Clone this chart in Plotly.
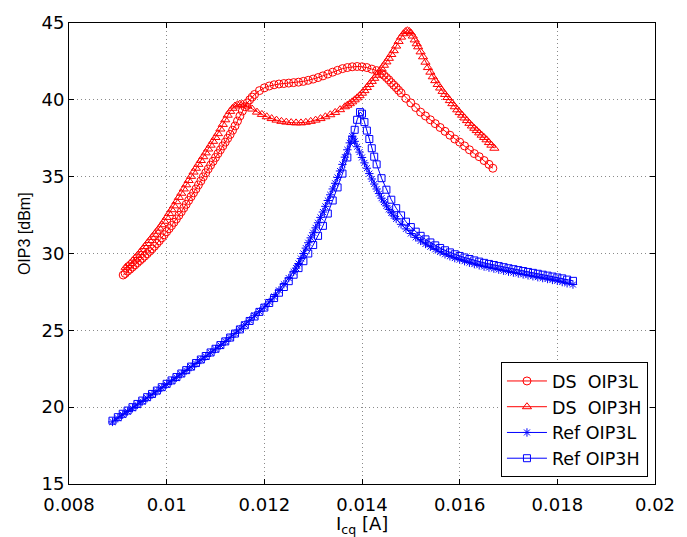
import plotly.graph_objects as go

# ---- data: quiescent collector current Icq [A] vs. OIP3 [dBm] ----
ds_l_icq = [0.00911, 0.00915, 0.0092, 0.00925, 0.0093, 0.00935, 0.0094, 0.00945, 0.0095, 0.00955,
            0.0096, 0.00965, 0.0097, 0.00975, 0.0098, 0.00985, 0.0099, 0.00995, 0.0100, 0.01005,
            0.0101, 0.01015, 0.0102, 0.01025, 0.0103, 0.01035, 0.0104, 0.01045, 0.0105, 0.01055,
            0.0106, 0.01065, 0.0107, 0.01075, 0.0108, 0.01085, 0.0109, 0.01095, 0.0110, 0.01105,
            0.0111, 0.01115, 0.0112, 0.01125, 0.0113, 0.01135, 0.0114, 0.01145, 0.0115, 0.01155,
            0.0116, 0.01165, 0.0117, 0.01175, 0.0118, 0.0119, 0.0120,
            0.0121, 0.0122, 0.0123, 0.0124, 0.0125, 0.0126, 0.0127, 0.0128, 0.0129, 0.0130,
            0.0131, 0.0132, 0.0133, 0.0134, 0.0135, 0.0136, 0.0137, 0.0138, 0.0139, 0.0140,
            0.0141, 0.0142, 0.0143, 0.0144, 0.01445, 0.0145, 0.01455, 0.0146, 0.01465, 0.0147,
            0.01475, 0.0148, 0.0149, 0.0150,
            0.0151, 0.0152, 0.0153, 0.0154, 0.0155, 0.0156, 0.0157, 0.0158, 0.0159, 0.0160,
            0.0161, 0.0162, 0.0163, 0.0164, 0.0165, 0.0166, 0.01668]
ds_l_oip3 = [28.6, 28.7, 28.85, 28.98, 29.12, 29.26, 29.4, 29.54, 29.68, 29.83,
             29.98, 30.14, 30.3, 30.47, 30.65, 30.83, 31.02, 31.22, 31.42, 31.62,
             31.82, 32.03, 32.25, 32.48, 32.72, 32.96, 33.2, 33.45, 33.7, 33.95,
             34.2, 34.46, 34.72, 34.99, 35.25, 35.5, 35.75, 36.0, 36.25, 36.5,
             36.75, 37.0, 37.25, 37.5, 37.75, 38.02, 38.3, 38.62, 38.95, 39.27,
             39.55, 39.8, 40.0, 40.18, 40.35, 40.6, 40.78,
             40.9, 40.98, 41.03, 41.06, 41.09, 41.12, 41.15, 41.2, 41.27, 41.35,
             41.45, 41.56, 41.68, 41.8, 41.92, 42.03, 42.1, 42.15, 42.17, 42.15,
             42.1, 42.0, 41.9, 41.72, 41.6, 41.45, 41.3, 41.12, 40.96, 40.8,
             40.62, 40.45, 40.1, 39.8,
             39.5, 39.2, 38.95, 38.7, 38.45, 38.2, 37.95, 37.7, 37.45, 37.25,
             37.0, 36.75, 36.5, 36.3, 36.05, 35.8, 35.55]

ds_h_icq = [0.00916, 0.0092, 0.00925, 0.0093, 0.00935, 0.0094, 0.00945, 0.0095, 0.00955, 0.0096,
            0.00965, 0.0097, 0.00975, 0.0098, 0.00985, 0.0099, 0.00995, 0.0100, 0.01005, 0.0101,
            0.01015, 0.0102, 0.01025, 0.0103, 0.01035, 0.0104, 0.01045, 0.0105, 0.01055, 0.0106,
            0.01065, 0.0107, 0.01075, 0.0108, 0.01085, 0.0109, 0.01095, 0.0110, 0.01105, 0.0111,
            0.01115, 0.0112, 0.01125, 0.0113, 0.01135, 0.0114, 0.01145, 0.0115, 0.01155,
            0.01165, 0.01175, 0.01185, 0.01195, 0.01205,
            0.01215, 0.01225, 0.01235, 0.01245, 0.01255, 0.01265, 0.01275, 0.01285, 0.01295, 0.01305,
            0.01315, 0.01325, 0.01335, 0.01345, 0.01355, 0.01365, 0.0137, 0.01375, 0.0138, 0.01385,
            0.0139, 0.01395, 0.0140, 0.01405, 0.0141, 0.01415, 0.0142, 0.01425, 0.0143, 0.01435,
            0.0144, 0.01445, 0.0145, 0.01455, 0.0146, 0.01465, 0.0147, 0.01475, 0.0148, 0.01485,
            0.01489, 0.01493, 0.01497, 0.0150, 0.01504, 0.01508, 0.01512, 0.01515, 0.0152, 0.01525,
            0.0153, 0.01535, 0.0154, 0.01545, 0.0155, 0.01555, 0.0156, 0.01565, 0.0157, 0.01575,
            0.0158, 0.01585, 0.0159, 0.01595, 0.0160, 0.01605, 0.0161, 0.01615, 0.0162, 0.01625,
            0.0163, 0.01635, 0.0164, 0.01645, 0.0165, 0.01655, 0.0166, 0.01665, 0.01671]
ds_h_oip3 = [29.1, 29.2, 29.35, 29.52, 29.7, 29.87, 30.05, 30.25, 30.45, 30.65,
             30.85, 31.05, 31.25, 31.45, 31.65, 31.87, 32.1, 32.35, 32.6, 32.85,
             33.1, 33.37, 33.65, 33.92, 34.2, 34.47, 34.75, 35.02, 35.3, 35.55,
             35.8, 36.05, 36.3, 36.55, 36.8, 37.05, 37.3, 37.55, 37.8, 38.1,
             38.4, 38.7, 39.0, 39.25, 39.45, 39.6, 39.68, 39.72, 39.72,
             39.6, 39.4, 39.2, 39.05, 38.9,
             38.78, 38.68, 38.6, 38.55, 38.52, 38.5, 38.5, 38.54, 38.6, 38.68,
             38.78, 38.9, 39.03, 39.18, 39.36, 39.55, 39.65, 39.75, 39.87, 40.0,
             40.13, 40.27, 40.43, 40.6, 40.8, 41.0, 41.2, 41.4, 41.6, 41.8,
             42.02, 42.25, 42.47, 42.7, 42.95, 43.2, 43.5, 43.8, 44.08, 44.3,
             44.44, 44.5, 44.45, 44.35, 44.15, 43.9, 43.65, 43.45, 43.12, 42.8,
             42.45, 42.1, 41.8, 41.5, 41.25, 41.0, 40.77, 40.55, 40.35, 40.15,
             39.95, 39.75, 39.55, 39.35, 39.17, 39.0, 38.82, 38.65, 38.47, 38.3,
             38.15, 38.0, 37.85, 37.7, 37.55, 37.4, 37.22, 37.05, 36.85]

ref_l_icq = [0.00889, 0.0090, 0.0091, 0.0092, 0.0093, 0.0094, 0.0095, 0.0096, 0.0097, 0.0098,
             0.0099, 0.0100, 0.0101, 0.0102, 0.0103, 0.0104, 0.0105, 0.0106, 0.0107, 0.0108,
             0.0109, 0.0110, 0.0111, 0.0112, 0.0113, 0.0114, 0.0115, 0.0116, 0.0117, 0.0118,
             0.0119, 0.0120, 0.0121, 0.0122, 0.0123, 0.0124, 0.0125,
             0.0126, 0.01265, 0.0127, 0.01275, 0.0128, 0.01285, 0.0129, 0.01295, 0.0130, 0.01305,
             0.0131, 0.01315, 0.0132, 0.01325, 0.0133, 0.01335, 0.0134, 0.01345, 0.0135, 0.01355,
             0.0136, 0.01365, 0.0137, 0.01375, 0.0138, 0.01385, 0.0139, 0.01395, 0.0140, 0.01405,
             0.0141, 0.01415, 0.0142, 0.01425, 0.0143, 0.01435, 0.0144, 0.01445, 0.0145, 0.01455,
             0.0146, 0.01465, 0.0147, 0.0148, 0.0149, 0.0150, 0.0151, 0.0152, 0.0153, 0.0154, 0.0155,
             0.0156, 0.0157, 0.0158, 0.0159, 0.0160, 0.0161, 0.0162, 0.0163, 0.0164, 0.0165,
             0.0166, 0.0167, 0.0168, 0.0169, 0.0170, 0.0171, 0.0172, 0.0173, 0.0174, 0.0175,
             0.0176, 0.0177, 0.0178, 0.0179, 0.0180, 0.0181, 0.0182, 0.01832]
ref_l_oip3 = [19.04, 19.28, 19.5, 19.72, 19.93, 20.15, 20.37, 20.59, 20.81, 21.03,
              21.25, 21.47, 21.7, 21.92, 22.15, 22.38, 22.61, 22.84, 23.07, 23.3,
              23.54, 23.78, 24.02, 24.27, 24.52, 24.8, 25.08, 25.36, 25.65, 25.95,
              26.22, 26.52, 26.85, 27.2, 27.6, 28.0, 28.4,
              28.8, 29.05, 29.35, 29.67, 30.0, 30.35, 30.7, 31.02, 31.35, 31.67,
              32.0, 32.35, 32.7, 33.07, 33.45, 33.82, 34.2, 34.57, 34.95, 35.37,
              35.8, 36.27, 36.75, 37.2, 37.64, 37.3, 36.95, 36.6, 36.25, 35.9,
              35.55, 35.2, 34.85, 34.52, 34.2, 33.9, 33.6, 33.35, 33.1, 32.87,
              32.65, 32.45, 32.25, 31.9, 31.6, 31.3, 31.05, 30.82, 30.62, 30.44, 30.27,
              30.1, 29.95, 29.82, 29.7, 29.6, 29.5, 29.4, 29.31, 29.23, 29.15,
              29.08, 29.02, 28.95, 28.88, 28.82, 28.76, 28.7, 28.64, 28.58, 28.52,
              28.46, 28.4, 28.34, 28.28, 28.22, 28.14, 28.06, 27.98]

ref_h_icq = [0.00889, 0.0090, 0.0091, 0.0092, 0.0093, 0.0094, 0.0095, 0.0096, 0.0097, 0.0098,
             0.0099, 0.0100, 0.0101, 0.0102, 0.0103, 0.0104, 0.0105, 0.0106, 0.0107, 0.0108,
             0.0109, 0.0110, 0.0111, 0.0112, 0.0113, 0.0114, 0.0115, 0.0116, 0.0117, 0.0118,
             0.0119, 0.0120, 0.0121, 0.0122, 0.0123, 0.0124, 0.0125, 0.0126, 0.0127, 0.0128,
             0.0129, 0.0130, 0.0131, 0.0132, 0.0133, 0.0134, 0.0135, 0.0136, 0.0137, 0.0138,
             0.01385, 0.0139, 0.01396, 0.0140, 0.01405, 0.0141, 0.01415, 0.0142, 0.01425, 0.0143,
             0.0144, 0.0145, 0.0146, 0.0147, 0.0148, 0.0149, 0.0150, 0.0151, 0.0152, 0.0153,
             0.0154, 0.0155, 0.0156, 0.0157, 0.0158, 0.0159, 0.0160, 0.0161, 0.0162, 0.0163,
             0.0164, 0.0165, 0.0166, 0.0167, 0.0168, 0.0169, 0.0170, 0.0171, 0.0172, 0.0173,
             0.0174, 0.0175, 0.0176, 0.0177, 0.0178, 0.0179, 0.0180, 0.0181, 0.0182, 0.01832]
ref_h_oip3 = [19.12, 19.35, 19.57, 19.78, 20.0, 20.21, 20.43, 20.65, 20.86, 21.08,
              21.3, 21.52, 21.74, 21.96, 22.19, 22.41, 22.64, 22.87, 23.1, 23.33,
              23.56, 23.8, 24.04, 24.28, 24.53, 24.79, 25.06, 25.33, 25.61, 25.9,
              26.2, 26.48, 26.78, 27.1, 27.45, 27.82, 28.2, 28.62, 29.05, 29.5,
              30.0, 30.55, 31.15, 31.8, 32.6, 33.45, 34.3, 35.2, 36.25, 37.4,
              38.05, 38.7, 39.2, 39.1, 38.55, 38.0, 37.45, 36.85, 36.3, 35.8,
              34.9, 34.15, 33.5, 32.95, 32.48, 32.07, 31.72, 31.42, 31.15, 30.92,
              30.72, 30.53, 30.36, 30.21, 30.07, 29.95, 29.84, 29.74, 29.64, 29.55,
              29.47, 29.39, 29.32, 29.25, 29.18, 29.11, 29.04, 28.98, 28.92, 28.86,
              28.8, 28.74, 28.68, 28.62, 28.56, 28.5, 28.44, 28.38, 28.3, 28.22]

series_names = ["DS\u00a0 OIP3L", "DS\u00a0 OIP3H", "Ref OIP3L", "Ref OIP3H"]

x_tick_vals = [0.008, 0.010, 0.012, 0.014, 0.016, 0.018, 0.020]
x_tick_text = ["0.008", "0.01", "0.012", "0.014", "0.016", "0.018", "0.02"]
y_tick_vals = [15, 20, 25, 30, 35, 40, 45]

# ---- styling ----
RED = "#ff0000"
BLUE = "#0000ff"
FONT = "DejaVu Sans"

traces = [
    (ds_l_icq, ds_l_oip3, series_names[0], RED, "circle-open", 8),
    (ds_h_icq, ds_h_oip3, series_names[1], RED, "triangle-up-open", 8),
    (ref_l_icq, ref_l_oip3, series_names[2], BLUE, "asterisk-open", 7),
    (ref_h_icq, ref_h_oip3, series_names[3], BLUE, "square-open", 7),
]

fig = go.Figure()
for i, (xs, ys, name, color, symbol, size) in enumerate(traces):
    fig.add_trace(go.Scatter(
        x=xs, y=ys, name=name, mode="lines+markers",
        legendgroup=f"g{i}",
        line=dict(color=color, width=1),
        marker=dict(symbol=symbol, size=size, color=color,
                    line=dict(color=color, width=1)),
    ))

axis_common = dict(
    showline=True, linecolor="black", linewidth=1, mirror="ticks",
    ticks="inside", ticklen=5, tickwidth=1, tickcolor="black",
    showgrid=True, gridcolor="#8a8a8a", gridwidth=1, griddash="1px,3px",
    zeroline=False,
    tickfont=dict(family=FONT, size=18, color="black"),
)

fig.update_xaxes(range=[0.008, 0.020], tickvals=x_tick_vals, ticktext=x_tick_text,
                 ticklabelstandoff=4, **axis_common)
fig.update_yaxes(range=[15, 45], tickvals=y_tick_vals, **axis_common)

fig.update_layout(
    width=687, height=537,
    margin=dict(l=69, r=22, t=15, b=53),
    plot_bgcolor="white", paper_bgcolor="white",
    font=dict(family=FONT, color="black"),
    showlegend=True,
    legend=dict(
        x=0.988, xanchor="right", y=0.015, yanchor="bottom",
        bgcolor="white", bordercolor="black", borderwidth=1,
        font=dict(family=FONT, size=17.5, color="black"),
        tracegroupgap=0, itemwidth=40,
    ),
    annotations=[
        dict(text="I<sub>cq</sub> [A]", xref="paper", yref="paper",
             x=0.5, y=-0.058, xanchor="center", yanchor="top", showarrow=False,
             font=dict(family=FONT, size=18, color="black")),
        dict(text="OIP3 [dBm]", xref="paper", yref="paper",
             x=-0.077, y=0.544, xanchor="center", yanchor="middle", showarrow=False,
             textangle=-90, font=dict(family="Liberation Sans", size=16, color="black")),
    ],
)

fig.write_html("out.html")
